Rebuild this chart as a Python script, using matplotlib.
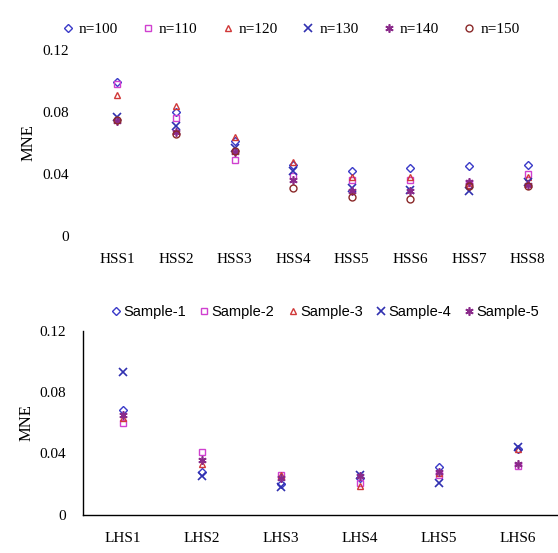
import numpy as np
import matplotlib.pyplot as plt

# HSS designs, MNE for each sample size n
hss_labels = ["HSS1", "HSS2", "HSS3", "HSS4", "HSS5", "HSS6", "HSS7", "HSS8"]
n100 = [0.099, 0.080, 0.061, 0.046, 0.042, 0.044, 0.045, 0.046]
n110 = [0.098, 0.076, 0.049, 0.039, 0.036, 0.036, 0.034, 0.040]
n120 = [0.091, 0.084, 0.064, 0.048, 0.038, 0.038, 0.033, 0.038]
n130 = [0.077, 0.071, 0.057, 0.042, 0.031, 0.030, 0.029, 0.035]
n140 = [0.074, 0.067, 0.054, 0.036, 0.029, 0.029, 0.035, 0.033]
n150 = [0.075, 0.066, 0.055, 0.031, 0.025, 0.024, 0.032, 0.032]

# LHS designs, MNE for each sample
lhs_labels = ["LHS1", "LHS2", "LHS3", "LHS4", "LHS5", "LHS6"]
sample1 = [0.068, 0.028, 0.020, 0.024, 0.031, 0.043]
sample2 = [0.060, 0.041, 0.026, 0.021, 0.026, 0.032]
sample3 = [0.063, 0.033, 0.026, 0.019, 0.027, 0.043]
sample4 = [0.093, 0.025, 0.018, 0.026, 0.021, 0.044]
sample5 = [0.065, 0.036, 0.024, 0.025, 0.028, 0.033]

serif = "Liberation Serif"
sans = "Liberation Sans"

fig = plt.figure(figsize=(5.58, 5.53), dpi=100)

# ---- top: HSS ----
ax1 = fig.add_axes([0.158, 0.573, 0.84, 0.337])
x = np.arange(len(hss_labels))
styles = [
    (n100, "n=100", "D", "#3a3ac8", 4, True),
    (n110, "n=110", "s", "#d040d0", 4.5, True),
    (n120, "n=120", "^", "#d03838", 5, True),
    (n130, "n=130", "x", "#3030b0", 5.5, False),
    (n140, "n=140", (6, 2, 0), "#8a2a8a", 6, False),
    (n150, "n=150", "o", "#8a2828", 5, True),
]
for vals, lab, m, c, ms, hollow in styles:
    if hollow:
        ax1.plot(x, vals, linestyle="none", marker=m, ms=ms, mfc="none",
                 mec=c, mew=1.0, label=lab)
    else:
        ax1.plot(x, vals, linestyle="none", marker=m, ms=ms, color=c,
                 mew=1.2, label=lab)
ax1.set_xlim(-0.5, len(hss_labels) - 0.5)
ax1.set_ylim(0, 0.12)
ax1.set_yticks([0, 0.04, 0.08, 0.12])
ax1.set_yticklabels(["0", "0.04", "0.08", "0.12"], family=serif, fontsize=11)
ax1.set_xticks(x)
ax1.set_xticklabels(hss_labels, family=serif, fontsize=11)
ax1.tick_params(length=0, pad=12)
ax1.tick_params(axis="y", pad=14)
for s in ax1.spines.values():
    s.set_visible(False)
ax1.set_ylabel("MNE", family=serif, fontsize=12, labelpad=4)
ax1.legend(loc="lower center", bbox_to_anchor=(0.43, 1.04), ncol=6,
           frameon=False, prop={"family": serif, "size": 11},
           handletextpad=0.2, columnspacing=1.5, handlelength=1.0,
           borderaxespad=0)

# ---- bottom: LHS ----
ax2 = fig.add_axes([0.149, 0.069, 0.85, 0.333])
x2 = np.arange(len(lhs_labels))
styles2 = [
    (sample1, "Sample-1", "D", "#3a3ac8", 4, True),
    (sample2, "Sample-2", "s", "#d040d0", 4.5, True),
    (sample3, "Sample-3", "^", "#d03838", 5, True),
    (sample4, "Sample-4", "x", "#3030b0", 5.5, False),
    (sample5, "Sample-5", (6, 2, 0), "#8a2a8a", 6, False),
]
for vals, lab, m, c, ms, hollow in styles2:
    if hollow:
        ax2.plot(x2, vals, linestyle="none", marker=m, ms=ms, mfc="none",
                 mec=c, mew=1.0, label=lab)
    else:
        ax2.plot(x2, vals, linestyle="none", marker=m, ms=ms, color=c,
                 mew=1.2, label=lab)
ax2.set_xlim(-0.5, len(lhs_labels) - 0.5)
ax2.set_ylim(0, 0.12)
ax2.set_yticks([0, 0.04, 0.08, 0.12])
ax2.set_yticklabels(["0", "0.04", "0.08", "0.12"], family=serif, fontsize=11)
ax2.set_xticks(x2)
ax2.set_xticklabels(lhs_labels, family=serif, fontsize=11)
ax2.tick_params(length=0, pad=12)
ax2.tick_params(axis="y", pad=12)
ax2.spines["top"].set_visible(False)
ax2.spines["right"].set_visible(False)
ax2.spines["left"].set_linewidth(1.0)
ax2.spines["bottom"].set_linewidth(1.0)
ax2.set_ylabel("MNE", family=serif, fontsize=12, labelpad=4)
ax2.legend(loc="lower center", bbox_to_anchor=(0.51, 1.03), ncol=5,
           frameon=False, prop={"family": sans, "size": 10.5},
           handletextpad=0.15, columnspacing=0.9, handlelength=0.7,
           borderaxespad=0)

fig.savefig("out.png", dpi=100)
